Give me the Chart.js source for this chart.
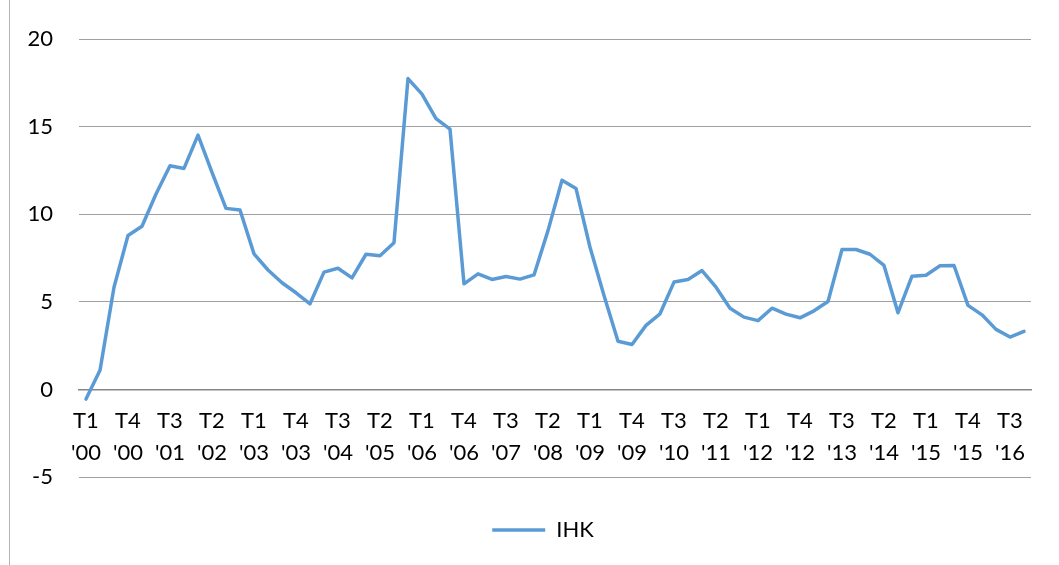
<!DOCTYPE html>
<html>
<head>
<meta charset="utf-8">
<script src="https://cdn.jsdelivr.net/npm/chart.js@4/dist/chart.umd.min.js"></script>
<style>
  html, body { margin: 0; padding: 0; background: #ffffff; }
  #wrap { position: relative; width: 1059px; height: 565px; overflow: hidden; }
  #frame { position: absolute; left: 9px; top: 0; bottom: 0; border-left: 1px solid #b4b4b4; }
  canvas { position: absolute; left: 0; top: 0; }
</style>
</head>
<body>
<div id="wrap">
  <div id="frame"></div>
  <canvas id="chart" width="1059" height="565"></canvas>
</div>
<script>
// Quarterly series, T1 '00 through T4 '16
const years = ['00','01','02','03','04','05','06','07','08','09','10','11','12','13','14','15','16'];
const quarters = ['T1','T2','T3','T4'];
const seriesName = 'IHK';
const ihk = [
  -0.55, 1.09, 5.84, 8.79,
   9.32, 11.16, 12.77, 12.62,
  14.52, 12.39, 10.34, 10.25,
   7.74, 6.82, 6.09, 5.52,
   4.89, 6.70, 6.92, 6.37,
   7.72, 7.63, 8.38, 17.75,
  16.86, 15.47, 14.86, 6.03,
   6.60, 6.28, 6.45, 6.30,
   6.54, 9.07, 11.95, 11.48,
   8.12, 5.37, 2.75, 2.57,
   3.66, 4.32, 6.13, 6.28,
   6.79, 5.84, 4.64, 4.13,
   3.93, 4.64, 4.30, 4.09,
   4.49, 5.02, 7.99, 7.99,
   7.72, 7.08, 4.38, 6.47,
   6.52, 7.06, 7.08, 4.80,
   4.26, 3.43, 2.99, 3.32
];
const yTicks = { min: -5, max: 20, step: 5 };
const labelEvery = 3;

// Two-line category labels: quarter on top, year below
const categories = [];
years.forEach(y => quarters.forEach(q => categories.push([q, "'" + y])));

const FONT = 'Lato, "Open Sans", sans-serif';

// Nudge the legend a little to the left of the plot-area centre
const legendShift = {
  id: 'legendShift',
  afterLayout(chart) {
    const lg = chart.legend;
    if (lg) { lg.left -= 12; lg.right -= 12; }
  }
};

new Chart(document.getElementById('chart'), {
  type: 'line',
  data: {
    labels: categories,
    datasets: [{
      label: seriesName,
      data: ihk,
      borderColor: '#5b9bd5',
      backgroundColor: '#5b9bd5',
      borderWidth: 3.5,
      borderJoinStyle: 'round',
      borderCapStyle: 'round',
      tension: 0,
      pointRadius: 0,
      pointHoverRadius: 0,
      pointBorderWidth: 3.5,
      fill: false
    }]
  },
  plugins: [legendShift],
  options: {
    responsive: false,
    animation: false,
    layout: { padding: { left: 9, right: 28, top: 36, bottom: 14 } },
    plugins: {
      tooltip: { enabled: false },
      legend: {
        position: 'bottom',
        fullSize: false,
        labels: {
          usePointStyle: true,
          pointStyle: 'line',
          pointStyleWidth: 53,
          padding: 42,
          color: '#000000',
          font: { family: FONT, size: 22 }
        }
      }
    },
    scales: {
      x: {
        position: { y: 0 },
        offset: true,
        grid: { display: false, drawTicks: false },
        border: { display: true, color: '#868686', width: 1.5 },
        ticks: {
          autoSkip: false,
          maxRotation: 0,
          minRotation: 0,
          padding: 15,
          color: '#000000',
          font: { family: FONT, size: 22, lineHeight: 1.47 },
          callback: function (value, index) {
            return index % labelEvery === 0 ? this.getLabelForValue(value) : null;
          }
        }
      },
      y: {
        min: yTicks.min,
        max: yTicks.max,
        grid: { color: '#a0a0a0', lineWidth: 1, drawTicks: false },
        border: { display: false },
        afterFit: function (scale) { scale.width = 70; },
        ticks: {
          stepSize: yTicks.step,
          padding: 26,
          color: '#000000',
          font: { family: FONT, size: 22 }
        }
      }
    }
  }
});
</script>
</body>
</html>
